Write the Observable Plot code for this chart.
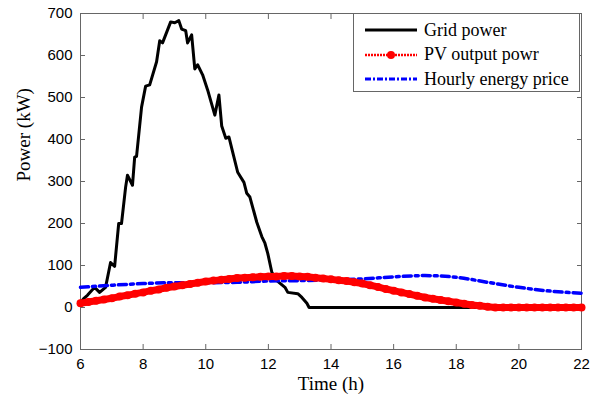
<!DOCTYPE html>
<html><head><meta charset="utf-8">
<script src="https://cdn.jsdelivr.net/npm/d3@7"></script>
<script src="https://cdn.jsdelivr.net/npm/@observablehq/plot@0.6"></script>
<style>
body{margin:0;background:#fff;}
#wrap{position:relative;width:597px;height:401px;}
#legend{position:absolute;left:353px;top:13px;width:227px;height:79px;border:1px solid #666;background:#fff;box-sizing:border-box;font-family:"Liberation Serif","Times New Roman",serif;font-size:18px;}
#legend .row{position:absolute;left:10px;height:22px;display:flex;align-items:center;white-space:nowrap;}
#legend svg{margin-right:6px;}
</style></head>
<body><div id="wrap"><div id="legend"></div></div>
<script>
const gridHours = [6.0,6.1,6.22,6.45,6.61,6.8,6.96,7.09,7.22,7.31,7.44,7.5,7.66,7.73,7.79,7.95,8.08,8.21,8.43,8.53,8.62,8.88,9.01,9.14,9.23,9.36,9.42,9.55,9.65,9.74,9.9,10.06,10.29,10.42,10.51,10.64,10.74,10.86,11.02,11.22,11.31,11.41,11.63,11.79,11.89,11.98,12.11,12.27,12.53,12.62,12.94,13.07,13.23,13.3,22];
const gridPower = [12,21,29,48,36,48,107,98,200,200,286,315,291,358,360,477,527,530,585,635,630,680,678,683,663,659,630,649,568,578,554,518,458,506,432,403,406,370,322,298,272,263,203,169,153,129,84,64,48,36,33,24,10,0,0];

const pvHours = [6,6.25,6.5,6.75,7,7.25,7.5,7.75,8,8.25,8.5,8.75,9,9.25,9.5,9.75,10,10.25,10.5,10.75,11,11.25,11.5,11.75,12,12.25,12.5,12.75,13,13.25,13.5,13.75,14,14.25,14.5,14.75,15,15.25,15.5,15.75,16,16.25,16.5,16.75,17,17.25,17.5,17.75,18,18.25,18.5,18.75,19,19.25,19.5,19.75,20,20.25,20.5,20.75,21,21.25,21.5,21.75,22];
const pvPower = [10,13,16,19,22,26,29,33,36,40,43,47,50,53,56,59,62,64,66,68,70,71,72,73,74,74,75,75,74,73,71,69,67,65,63,60,57,53,49,44,40,36,32,28,24,21,18,15,12,9,6,4,2,0,0,0,0,0,0,0,0,0,0,0,0];

const priceHours = [6,7,8,9,10,11,12,13,14,15,16,17,18,19,20,21,22];
const pricePower = [48,53,57,59,59,60,63,64,66,68,73,76,72,60,48,39,34];

const xTicks = [6,8,10,12,14,16,18,20,22];
const yTicks = [-100,0,100,200,300,400,500,600,700];

const grid = gridHours.map((h,i)=>({h, v:gridPower[i]}));
const pv = pvHours.map((h,i)=>({h, v:pvPower[i]}));
const price = priceHours.map((h,i)=>({h, v:pricePower[i]}));

const serif = "'Liberation Serif','Times New Roman',serif";
const chart = Plot.plot({
  width:597, height:401,
  marginLeft:80, marginRight:16, marginTop:13, marginBottom:52,
  style:{fontFamily:"'Liberation Sans',Arial,sans-serif", fontSize:"15px", color:"#000", background:"#fff"},
  x:{domain:[6,22]},
  y:{domain:[-100,700]},
  marks:[
    Plot.frame({stroke:"#666"}),
    Plot.axisX(xTicks,{anchor:"bottom", tickSize:0, tickPadding:9, label:null, fontSize:15}),
    Plot.axisX(xTicks,{anchor:"bottom", tickSize:-5, tickFormat:()=>"", label:null, stroke:"#666"}),
    Plot.axisX(xTicks,{anchor:"top", tickSize:-5, tickFormat:()=>"", label:null, stroke:"#666"}),
    Plot.axisY(yTicks,{anchor:"left", tickSize:0, tickPadding:8, label:null, fontSize:15}),
    Plot.axisY(yTicks,{anchor:"left", tickSize:-5, tickFormat:()=>"", label:null, stroke:"#666"}),
    Plot.axisY(yTicks,{anchor:"right", tickSize:-5, tickFormat:()=>"", label:null, stroke:"#666"}),
    Plot.text(["Time (h)"],{frameAnchor:"bottom", dy:40, fontFamily:serif, fontSize:19}),
    Plot.text(["Power (kW)"],{frameAnchor:"left", dx:-57, rotate:-90, fontFamily:serif, fontSize:19}),
    Plot.line(grid,{x:"h", y:"v", stroke:"#000", strokeWidth:3, strokeLinejoin:"round"}),
    Plot.line(price,{x:"h", y:"v", stroke:"#0000ff", strokeWidth:3.5, strokeDasharray:"8,4,3,4", curve:"monotone-x"}),
    Plot.line(pv,{x:"h", y:"v", stroke:"#ff0000", strokeWidth:7, strokeLinecap:"round", strokeLinejoin:"round"}),
    Plot.dot(pv,{x:"h", y:"v", r:4, fill:"#ff0000", stroke:"none"})
  ]
});
const wrap = document.getElementById("wrap");
wrap.insertBefore(chart, wrap.firstChild);

const legendItems = [
  {label:"Grid power", color:"#000", dash:null, width:3, dot:false},
  {label:"PV output powr", color:"#ff0000", dash:"2,1", width:2.5, dot:true},
  {label:"Hourly energy price", color:"#0000ff", dash:"6,2,2,2", width:3, dot:false}
];
const leg = document.getElementById("legend");
legendItems.forEach((it,i)=>{
  const row = document.createElement("div");
  row.className="row"; row.style.top = (5+i*24.5)+"px";
  row.innerHTML = `<svg width="54" height="12"><line x1="1" x2="53" y1="6" y2="6" stroke="${it.color}" stroke-width="${it.width}" ${it.dash?`stroke-dasharray="${it.dash}"`:""}/>${it.dot?`<circle cx="27" cy="6" r="4" fill="${it.color}"/>`:""}</svg><span>${it.label}</span>`;
  leg.appendChild(row);
});
</script></body></html>
